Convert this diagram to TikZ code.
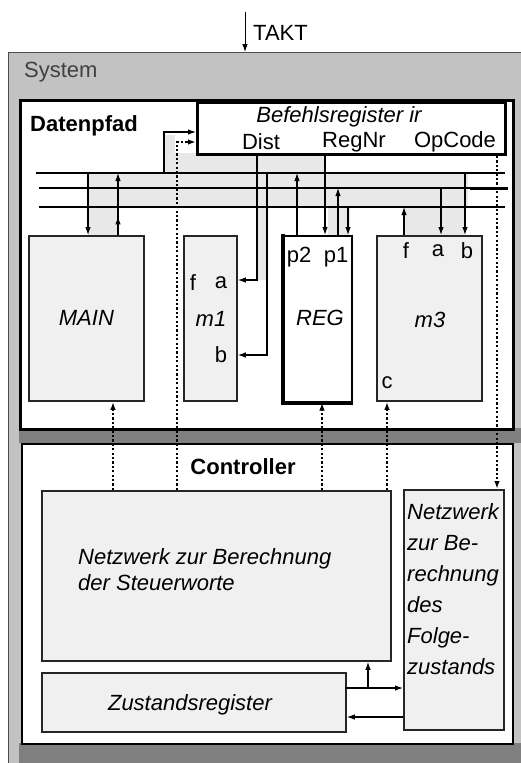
\documentclass[tikz,border=0pt]{standalone}
\usepackage{fontspec}
\setmainfont{Liberation Sans}
\usetikzlibrary{arrows.meta,decorations.markings}
\begin{document}
\begin{tikzpicture}[x=1pt,y=-1pt,
  lbl/.style={font=\fontsize{22}{26}\selectfont, inner sep=0pt},
  arr/.style={line width=1.1pt, -{Latex[length=8pt,width=5.5pt]}},
  dots/.style={line width=1.6pt, dash pattern=on 2.2pt off 2.2pt},
  darr/.style={dots, -{Latex[length=8pt,width=5.5pt]}},
  busline/.style={line width=1.5pt},
  modbox/.style={draw=black!85, line width=1.8pt, fill=gray!12, anchor=north west, inner sep=0pt},
  midarrow/.style={postaction={decorate}, decoration={markings, mark=at position #1 with {\arrow{Latex[length=8pt,width=5.5pt]}}}}
]
\useasboundingbox (0,0) rectangle (521,763);

% ---------- System frame ----------
\node[fill=gray!48, minimum width=513pt, minimum height=711pt, anchor=north west, inner sep=0pt] (sys) at (8,52) {};
\draw[line width=1pt, black!70] (sys.south west) -- (sys.north west) -- (sys.north east);
\fill[black!50] (19,428) rectangle (521,443);
\fill[black!50] (19,743) rectangle (521,763);
\node[lbl, anchor=west, text=black!75] (systxt) at (24,72) {System};

% TAKT
\coordinate (taktsrc) at (245,12);
\draw[arr, line width=0.9pt] (taktsrc) -- (245,0 |- sys.north);
\node[lbl, anchor=west] (takt) at (253,33) {TAKT};

% ---------- Datenpfad ----------
\node[draw, line width=2.5pt, fill=white, minimum width=493pt, minimum height=329pt, anchor=north west, inner sep=0pt] (dp) at (19,99) {};
\node[lbl, anchor=west, font=\fontsize{22}{26}\selectfont\bfseries] (dptxt) at (30,126) {Datenpfad};

% bundles (light gray shading)
\fill[gray!18] (88,173) rectangle (468,207);
\fill[gray!18] (88,207) rectangle (118,235);
\fill[gray!18] (163,135) rectangle (175,173);
\fill[gray!18] (163,153) rectangle (325,173);
\fill[gray!18] (257,153) rectangle (267,280);
\fill[gray!18] (328,207) rectangle (350,235);
\fill[gray!18] (404,207) rectangle (465,235);

% Befehlsregister
\node[draw, line width=3pt, fill=white, minimum width=308pt, minimum height=52pt, anchor=north west, inner sep=0pt] (ir) at (196,101) {};
\node[lbl, font=\fontsize{22}{26}\selectfont\itshape] (irtxt) at (339,117) {Befehlsregister ir};
\node[lbl] (dist) at (261,142) {Dist};
\node[lbl] (regnr) at (354,142) {RegNr};
\node[lbl] (opcode) at (455,142) {OpCode};

% bus lines
\coordinate (b1w) at (36,173);  \coordinate (b1e) at (505,173);
\coordinate (b2w) at (39,188);  \coordinate (b2m) at (470,188); \coordinate (b2e) at (508,188);
\coordinate (b3w) at (39,207);  \coordinate (b3e) at (505,207);
\draw[busline] (b1w) -- (b1e);
\draw[busline] (b2w) -- (b2m);
\draw[line width=3pt] (b2m) -- (b2e);
\draw[busline] (b3w) -- (b3e);

% modules
\node[modbox, minimum width=115pt, minimum height=165pt] (main) at (28,235) {};
\node[lbl, font=\fontsize{22}{26}\selectfont\itshape] at (main.center) {MAIN};

\node[modbox, minimum width=53pt, minimum height=165pt] (m1) at (183,235) {};
\node[lbl] (m1f) at (193,283) {f};
\node[lbl] (m1a) at (221,283) {a};
\node[lbl, font=\fontsize{22}{26}\selectfont\itshape] (m1t) at (211,319) {m1};
\node[lbl] (m1b) at (221,355) {b};

\node[draw, line width=1.5pt, fill=white, minimum width=68pt, minimum height=166pt, anchor=north west, inner sep=0pt] (reg) at (283,235) {};
\draw[line width=4pt] ([yshift=1pt]reg.north west) -- (reg.south west) -- (reg.south east);
\node[lbl] (p2) at (299,257) {p2};
\node[lbl] (p1) at (336,257) {p1};
\node[lbl, font=\fontsize{22}{26}\selectfont\itshape] (regt) at (320,318) {REG};

\node[modbox, minimum width=105pt, minimum height=165pt] (m3) at (376,235) {};
\node[lbl] (m3f) at (406,251) {f};
\node[lbl] (m3a) at (438,251) {a};
\node[lbl] (m3b) at (467,251) {b};
\node[lbl, font=\fontsize{22}{26}\selectfont\itshape] (m3t) at (430,320) {m3};
\node[lbl] (m3c) at (387,383) {c};

% ---------- Controller ----------
\node[draw, line width=2pt, fill=white, minimum width=491pt, minimum height=300pt, anchor=north west, inner sep=0pt] (ctl) at (21,443) {};
\node[lbl, font=\fontsize{22}{26}\selectfont\bfseries] (ctltxt) at (243,467) {Controller};

\node[modbox, minimum width=349pt, minimum height=170pt] (steuer) at (41,490) {};
\node[lbl, align=left, anchor=west, font=\fontsize{22}{26}\selectfont\itshape] (steuertxt) at (78,570) {Netzwerk zur Berechnung\\der Steuerworte};

\node[modbox, minimum width=100pt, minimum height=240pt] (folge) at (403,489) {};
\node[lbl, align=left, anchor=north west, font=\fontsize{22}{31}\selectfont\itshape] (folgetxt) at (407,503) {Netzwerk\\zur Be-\\rechnung\\des\\Folge-\\zustands};

\node[modbox, minimum width=304pt, minimum height=59pt] (zust) at (41,672) {};
\node[lbl, font=\fontsize{22}{26}\selectfont\itshape] (zusttxt) at (190,705) {Zustandsregister};

% ---------- connectors: data path ----------
\draw[arr] (88,0 |- b1w) -- (88,0 |- main.north);
\draw[arr, midarrow=0.3] (118,0 |- main.north) -- (118,0 |- b1w);
% load ir from bus
\draw[arr] (164,0 |- b1w) -- (164,132) -- (164,132 -| ir.west);
% Dist to m1.a, bus to m1.b
\draw[arr] (257,0 |- ir.south) -- (257,280) -- (257,280 -| m1.east);
\draw[arr] (267,0 |- b1w) -- (267,355) -- (267,355 -| m1.east);
% REG
\draw[arr] (297,0 |- reg.north) -- (297,0 |- b1w);
\draw[arr] (325,0 |- ir.south) -- (325,0 |- reg.north);
\draw[arr] (338,0 |- reg.north) -- (338,0 |- b2w);
\draw[arr] (348,0 |- b3w) -- (348,0 |- reg.north);
% m3
\draw[arr] (404,0 |- m3.north) -- (404,0 |- b3w);
\draw[arr] (441,0 |- b2w) -- (441,0 |- m3.north);
\draw[arr] (465,0 |- b1w) -- (465,0 |- m3.north);

% ---------- control signals ----------
\draw[darr] (177,0 |- steuer.north) -- (177,142) -- (177,142 -| ir.west);
\draw[darr] (113,0 |- steuer.north) -- (113,0 |- main.south);
\draw[darr] (322,0 |- steuer.north) -- (322,0 |- reg.south);
\draw[darr] (387,0 |- steuer.north) -- (387,0 |- m3.south);
\draw[darr] (497,0 |- ir.south) -- (497,0 |- folge.north);

% ---------- controller connectors ----------
\coordinate (zo) at (345,688);
\coordinate (br) at (368,688);
\draw[arr] (zo) -- (zo -| folge.west);
\draw[arr] (br) -- (br |- steuer.south);
\draw[arr] (folge.west |- 0,717) -- (zust.east |- 0,717);
\end{tikzpicture}
\end{document}
